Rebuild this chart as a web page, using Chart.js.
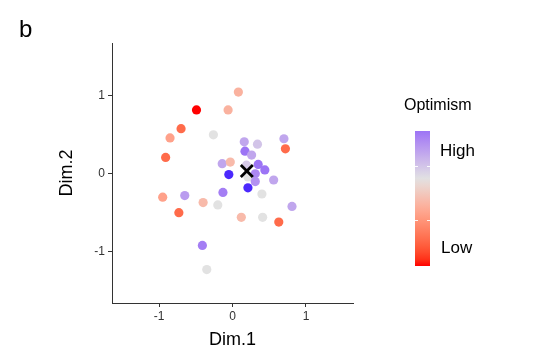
<!DOCTYPE html>
<html><head><meta charset="utf-8">
<script src="https://cdn.jsdelivr.net/npm/chart.js@4.4.1/dist/chart.umd.min.js"></script>
<style>html,body{margin:0;padding:0;background:#fff}</style>
</head><body>
<canvas id="c" width="535" height="354"></canvas>
<script>
// Data
const dim1 = [0.08,-0.49,-0.06,-0.70,-0.85,-0.26,0.16,0.34,0.70,0.72,0.17,0.26,-0.91,-0.14,-0.03,0.19,0.35,0.44,0.31,-0.05,0.21,0.56,0.31,0.21,-0.13,0.40,-0.95,-0.65,-0.40,-0.20,0.81,-0.73,0.12,0.41,0.63,-0.41,-0.35];
const dim2 = [1.05,0.82,0.82,0.58,0.46,0.50,0.41,0.38,0.45,0.32,0.29,0.24,0.21,0.13,0.15,0.11,0.12,0.05,0.00,-0.01,-0.04,-0.08,-0.10,-0.18,-0.24,-0.26,-0.30,-0.28,-0.37,-0.40,-0.42,-0.50,-0.56,-0.56,-0.62,-0.92,-1.23];
const optimism = [-0.3,-1,-0.3,-0.7,-0.4,0,0.3,0.15,0.3,-0.7,0.55,0.3,-0.7,0.3,-0.25,0.12,0.55,0.55,0.45,0.9,0,0.3,0.4,0.9,0.5,0,-0.4,0.35,-0.25,0,0.3,-0.7,-0.25,0,-0.7,0.5,0];
const centroid = [{x:0.195, y:0.035}];
const xTicks = [-1,0,1];
const yTicks = [-1,0,1];

// Lab interpolation (like ggplot gradient2)
function toLin(c){c/=255;return c<=0.04045?c/12.92:Math.pow((c+0.055)/1.055,2.4);}
function fromLin(c){c=c<=0.0031308?12.92*c:1.055*Math.pow(c,1/2.4)-0.055;return Math.max(0,Math.min(255,Math.round(c*255)));}
const Wn=[0.95047,1,1.08883];
function f(t){return t>0.008856?Math.cbrt(t):7.787*t+16/116;}
function fi(t){return t>0.206893?t*t*t:(t-16/116)/7.787;}
function rgb2lab(rgb){const [r,g,b]=rgb.map(toLin);
  const X=(0.4124*r+0.3576*g+0.1805*b)/Wn[0],Y=(0.2126*r+0.7152*g+0.0722*b)/Wn[1],Z=(0.0193*r+0.1192*g+0.9505*b)/Wn[2];
  return [116*f(Y)-16,500*(f(X)-f(Y)),200*(f(Y)-f(Z))];}
function lab2rgb(lab){const fy=(lab[0]+16)/116,fx=fy+lab[1]/500,fz=fy-lab[2]/200;
  const X=fi(fx)*Wn[0],Y=fi(fy)*Wn[1],Z=fi(fz)*Wn[2];
  const r=3.2406*X-1.5372*Y-0.4986*Z,g=-0.9689*X+1.8758*Y+0.0415*Z,b=0.0557*X-0.2040*Y+1.0570*Z;
  return [fromLin(r),fromLin(g),fromLin(b)];}
const LOW=rgb2lab([255,0,0]), MID=rgb2lab([226,226,226]), HIGH=rgb2lab([0,0,255]);
function mix(a,b,t){return a.map((v,i)=>v+(b[i]-v)*t);}
function colorOf(v){const c=lab2rgb(v<0?mix(MID,LOW,-v):mix(MID,HIGH,v));return `rgb(${c[0]},${c[1]},${c[2]})`;}

const pts = dim1.map((x,i)=>({x, y:dim2[i]}));
const FONT = "'Liberation Sans', Arial, Helvetica, sans-serif";

const decor = {
  id:'decor',
  afterDraw(chart){
    const ctx=chart.ctx, a=chart.chartArea;
    ctx.save();
    ctx.fillStyle='#000';
    ctx.font=`24px ${FONT}`;
    ctx.textAlign='left'; ctx.textBaseline='alphabetic';
    ctx.fillText('b',19,37);
    ctx.font=`18px ${FONT}`;
    ctx.textAlign='center'; ctx.textBaseline='middle';
    ctx.fillText('Dim.1',(a.left+a.right)/2,340);
    ctx.translate(67,(a.top+a.bottom)/2);
    ctx.rotate(-Math.PI/2);
    ctx.fillText('Dim.2',0,0);
    ctx.restore();
    // legend
    ctx.save();
    ctx.font=`16px ${FONT}`; ctx.fillStyle='#000';
    ctx.textAlign='left'; ctx.textBaseline='middle';
    ctx.fillText('Optimism',404,106);
    const bx=415,by=131,bw=15,bh=135;
    const g=ctx.createLinearGradient(0,by,0,by+bh);
    for(let i=0;i<=20;i++){const t=i/20;const v=0.55-t*1.55;g.addColorStop(t,colorOf(v));}
    ctx.fillStyle=g; ctx.fillRect(bx,by,bw,bh);
    ctx.strokeStyle='rgba(255,255,255,0.9)'; ctx.lineWidth=1;
    [166.5,220.5].forEach(y=>{ctx.beginPath();ctx.moveTo(bx,y);ctx.lineTo(bx+3,y);ctx.moveTo(bx+bw-3,y);ctx.lineTo(bx+bw,y);ctx.stroke();});
    ctx.fillStyle='#000'; ctx.font=`17px ${FONT}`;
    ctx.fillText('High',440,151);
    ctx.fillText('Low',441,248);
    ctx.restore();
  }
};

new Chart(document.getElementById('c'),{
  type:'scatter',
  data:{datasets:[
    {data:centroid, order:0, pointStyle:'crossRot', pointRadius:8.5, pointHoverRadius:8.5, borderWidth:2.8,
     borderColor:'#000', backgroundColor:'#000'},
    {data:pts, order:1, pointRadius:4.6, pointHoverRadius:4.6, borderWidth:0,
     backgroundColor:optimism.map(colorOf), pointBorderColor:'transparent'}
  ]},
  options:{
    responsive:false, animation:false, devicePixelRatio:1,
    layout:{padding:{left:0,right:182,top:43,bottom:0}},
    plugins:{legend:{display:false},tooltip:{enabled:false}},
    scales:{
      x:{type:'linear',min:-1.64,max:1.64,
        afterBuildTicks(s){s.ticks=xTicks.map(v=>({value:v}));},
        afterFit(s){s.height=51;},
        grid:{drawOnChartArea:false,drawTicks:true,tickLength:4,tickColor:'#333'},
        border:{color:'#333',width:1},
        ticks:{color:'#333',font:{family:FONT,size:12},padding:2,maxRotation:0}
      },
      y:{type:'linear',min:-1.66,max:1.68,
        afterBuildTicks(s){s.ticks=yTicks.map(v=>({value:v}));},
        afterFit(s){s.width=112;},
        grid:{drawOnChartArea:false,drawTicks:true,tickLength:4,tickColor:'#333'},
        border:{color:'#333',width:1},
        ticks:{color:'#333',font:{family:FONT,size:12},padding:3}
      }
    }
  },
  plugins:[decor]
});
</script>
</body></html>
